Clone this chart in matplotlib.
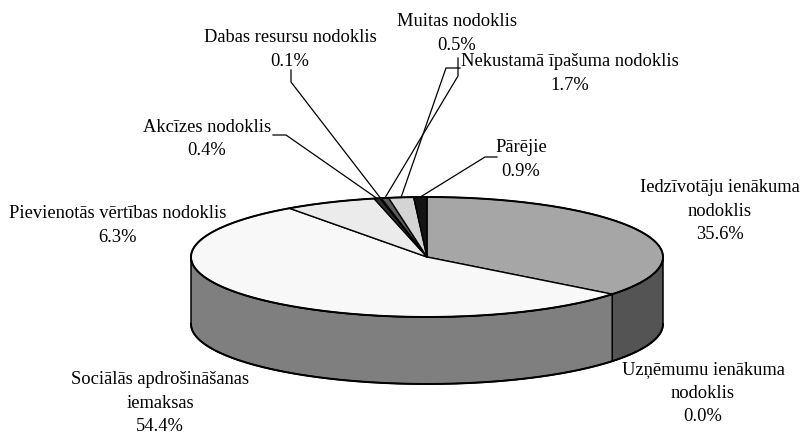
import numpy as np
import matplotlib
matplotlib.use("Agg")
import matplotlib.pyplot as plt
from matplotlib.patches import Polygon

# Tax revenue structure
categories = [
    "Iedzīvotāju ienākuma\nnodoklis",
    "Uzņēmumu ienākuma\nnodoklis",
    "Sociālās apdrošināšanas\niemaksas",
    "Pievienotās vērtības nodoklis",
    "Akcīzes nodoklis",
    "Dabas resursu nodoklis",
    "Muitas nodoklis",
    "Nekustamā īpašuma nodoklis",
    "Pārējie",
]
shares = [35.6, 0.0, 54.4, 6.3, 0.4, 0.1, 0.5, 1.7, 0.9]

top_colors = ["#a6a6a6", "#e0e0e0", "#f8f8f8", "#ebebeb", "#2e2e2e",
              "#1c1c1c", "#5c5c5c", "#d4d4d4", "#141414"]
side_colors = ["#545454", "#707070", "#7f7f7f", "#777777", "#171717",
               "#0e0e0e", "#2e2e2e", "#6a6a6a", "#0a0a0a"]

# label placement (centre x, first row y) and leader polylines towards the slice
label_pos = [(720, 188), (703, 370), (160, 380), (118, 214), (207, 127),
             (290, 38), (457, 22), (570, 62), (521, 148)]
leader_start = [None, None, None, None,
                [(273, 135), (286, 135)],
                [(291, 70), (291, 82)],
                [(458, 58), (458, 76)],
                [(460, 68), (446, 68)],
                [(497, 157), (485, 157)]]

W, H = 809, 434
fig = plt.figure(figsize=(W / 100, H / 100), dpi=100)
ax = fig.add_axes([0, 0, 1, 1])
ax.set_xlim(0, W)
ax.set_ylim(H, 0)
ax.axis("off")

cx, cy, rx, ry, depth = 427.0, 257.0, 236.0, 60.0, 67.0


def rim(theta_deg, dy=0.0):
    t = np.radians(theta_deg)
    return cx + rx * np.sin(t), cy - ry * np.cos(t) + dy


total = sum(shares)
bounds = np.concatenate([[0.0], np.cumsum(shares) / total * 360.0])

# side walls: only the front half (90..270 deg clockwise from top) is visible
for i in range(len(shares)):
    a0, a1 = max(bounds[i], 90.0), min(bounds[i + 1], 270.0)
    if a1 - a0 <= 1e-6:
        continue
    th = np.linspace(a0, a1, 200)
    upper = [rim(t) for t in th]
    lower = [rim(t, depth) for t in th[::-1]]
    ax.add_patch(Polygon(upper + lower, closed=True, facecolor=side_colors[i],
                         edgecolor="black", linewidth=1.1, joinstyle="round"))

# top face wedges
for i in range(len(shares)):
    a0, a1 = bounds[i], bounds[i + 1]
    if a1 - a0 <= 1e-6:
        continue
    th = np.linspace(a0, a1, max(4, int((a1 - a0) * 3)))
    pts = [(cx, cy)] + [rim(t) for t in th]
    ax.add_patch(Polygon(pts, closed=True, facecolor=top_colors[i],
                         edgecolor="black", linewidth=1.0, joinstyle="round"))

# outer outline of the disc
th = np.linspace(0, 360, 721)
ax.plot([rim(t)[0] for t in th], [rim(t)[1] for t in th], color="black", lw=1.4)
th = np.linspace(90, 270, 361)
ax.plot([rim(t, depth)[0] for t in th], [rim(t, depth)[1] for t in th],
        color="black", lw=1.4)

# labels
font = dict(family="Liberation Serif", fontsize=13.3, color="black")
row_step = 23.3
for i, name in enumerate(categories):
    x0, y0 = label_pos[i]
    rows = name.split("\n") + [f"{shares[i]:.1f}%"]
    for k, row in enumerate(rows):
        ax.text(x0, y0 + k * row_step, row, ha="center", va="center", **font)
    if leader_start[i] is not None:
        mid = (bounds[i] + bounds[i + 1]) / 2
        pts = leader_start[i] + [rim(mid)]
        ax.plot([p[0] for p in pts], [p[1] for p in pts], color="black", lw=0.9)

fig.savefig("out.png", dpi=100, facecolor="white")
